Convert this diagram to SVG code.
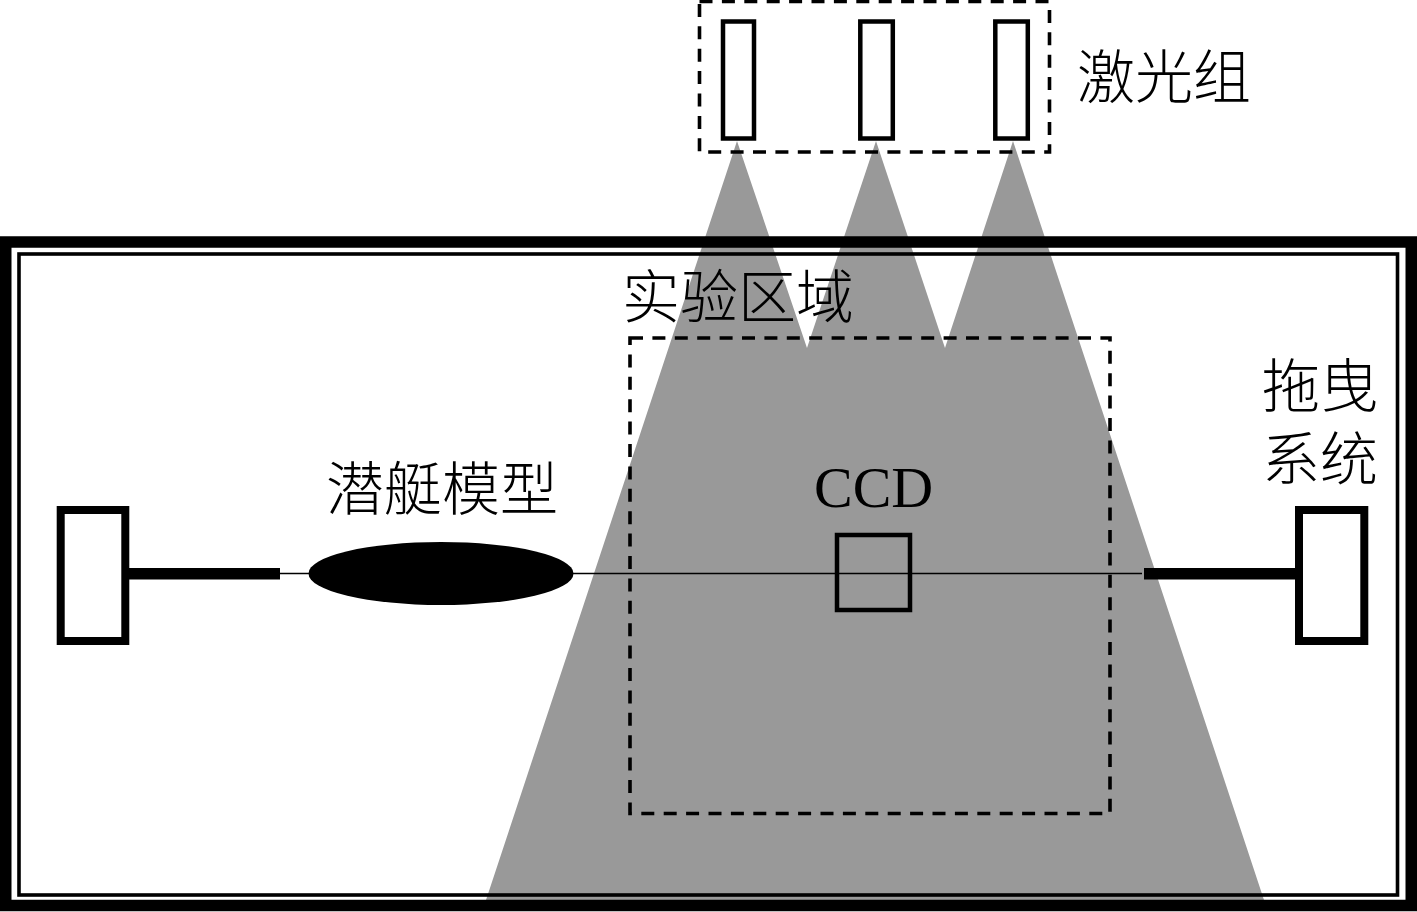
<svg xmlns="http://www.w3.org/2000/svg" width="1417" height="912" viewBox="0 0 1417 912">
<style>
.box{fill:#fff;stroke:#000}
.frame{fill:none;stroke:#000}
.dash{fill:none;stroke:#000;stroke-width:3.6;stroke-dasharray:13 9.4}
.bar{fill:#000}
.beam{fill:#999}
text{font-family:"Noto Sans CJK SC",sans-serif;font-size:58px;fill:#000;font-weight:300}
.latin{font-family:"Liberation Serif",serif;font-weight:400}
</style>
<rect width="1417" height="912" fill="#fff"/>
<g id="beams">
<polygon class="beam" points="737,141 807,348 876,141 945,348 1013,141 1264,900 486,900"/>
</g>
<g id="tank">
<rect class="frame" x="5.75" y="242" width="1405.5" height="663.5" stroke-width="11.5"/>
<rect class="frame" x="19" y="254" width="1378.5" height="641" stroke-width="3.6"/>
</g>
<g id="laser-group">
<rect class="dash" x="699.5" y="1.5" width="350" height="150.5"/>
<rect class="box" x="723" y="21.5" width="31" height="117" stroke-width="4.5"/>
<rect class="box" x="860.3" y="21.5" width="32.5" height="117" stroke-width="4.5"/>
<rect class="box" x="995.3" y="21.5" width="32.5" height="117" stroke-width="4.5"/>
<text x="1077" y="98">激光组</text>
</g>
<g id="experiment-area">
<rect class="dash" x="630" y="338" width="480" height="475.5"/>
<text x="622" y="318">实验区域</text>
</g>
<g id="connectors">
<line x1="280" y1="573.5" x2="1142" y2="573.5" stroke="#000" stroke-width="1.6"/>
<rect class="bar" x="129" y="568" width="151" height="11.5"/>
<rect class="bar" x="1144" y="568" width="152" height="11.5"/>
</g>
<g id="left-carriage">
<rect class="box" x="60.7" y="510" width="64.6" height="131" stroke-width="8"/>
</g>
<g id="submarine">
<ellipse cx="441" cy="573.5" rx="132.5" ry="31.5" fill="#000"/>
<text x="326" y="510">潜艇模型</text>
</g>
<g id="ccd">
<rect class="frame" x="837" y="535" width="73" height="75" stroke-width="4.5"/>
<text class="latin" x="814" y="507">CCD</text>
</g>
<g id="towing-system">
<rect class="box" x="1299" y="510" width="65.3" height="131" stroke-width="8"/>
<text x="1262" y="407">拖曳<tspan x="1262" dy="73">系统</tspan></text>
</g>
</svg>
